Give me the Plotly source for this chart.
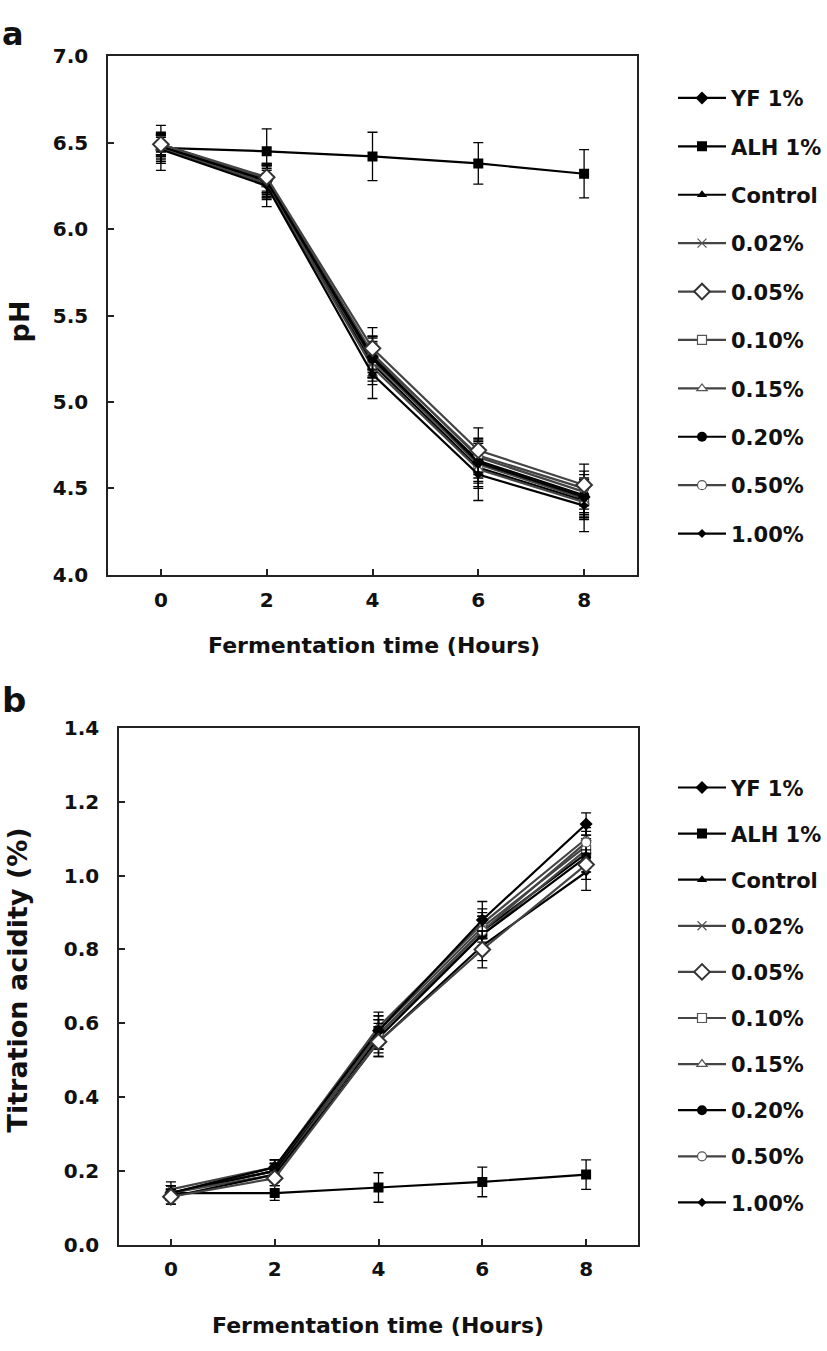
import plotly.graph_objects as go

# ---------------- data ----------------
hours = [0, 2, 4, 6, 8]
series_names = ["YF 1%", "ALH 1%", "Control", "0.02%", "0.05%", "0.10%",
                "0.15%", "0.20%", "0.50%", "1.00%"]

# panel a : pH
ph_yf = [6.48, 6.28, 5.26, 4.65, 4.45]
ph_alh = [6.47, 6.45, 6.42, 6.38, 6.32]
ph_control = [6.47, 6.27, 5.22, 4.62, 4.43]
ph_002 = [6.49, 6.29, 5.28, 4.68, 4.48]
ph_005 = [6.49, 6.30, 5.31, 4.72, 4.52]
ph_010 = [6.48, 6.27, 5.24, 4.64, 4.44]
ph_015 = [6.47, 6.26, 5.20, 4.61, 4.42]
ph_020 = [6.48, 6.28, 5.25, 4.66, 4.46]
ph_050 = [6.49, 6.29, 5.27, 4.69, 4.50]
ph_100 = [6.46, 6.25, 5.16, 4.58, 4.40]

ph_err_yf = [0.08, 0.10, 0.12, 0.12, 0.10]
ph_err_alh = [0.13, 0.13, 0.14, 0.12, 0.14]
ph_err_control = [0.08, 0.10, 0.10, 0.12, 0.10]
ph_err_002 = [0.06, 0.08, 0.10, 0.10, 0.10]
ph_err_005 = [0.06, 0.08, 0.12, 0.13, 0.12]
ph_err_010 = [0.06, 0.08, 0.10, 0.10, 0.10]
ph_err_015 = [0.06, 0.08, 0.10, 0.10, 0.10]
ph_err_020 = [0.06, 0.08, 0.10, 0.10, 0.10]
ph_err_050 = [0.06, 0.08, 0.10, 0.10, 0.10]
ph_err_100 = [0.08, 0.12, 0.14, 0.15, 0.15]

# panel b : titration acidity (%)
ta_yf = [0.14, 0.21, 0.58, 0.88, 1.14]
ta_alh = [0.14, 0.14, 0.155, 0.17, 0.19]
ta_control = [0.14, 0.20, 0.57, 0.85, 1.06]
ta_002 = [0.14, 0.21, 0.58, 0.86, 1.08]
ta_005 = [0.13, 0.18, 0.55, 0.80, 1.03]
ta_010 = [0.14, 0.20, 0.57, 0.84, 1.07]
ta_015 = [0.15, 0.21, 0.59, 0.87, 1.10]
ta_020 = [0.14, 0.20, 0.56, 0.84, 1.05]
ta_050 = [0.14, 0.19, 0.57, 0.85, 1.09]
ta_100 = [0.13, 0.19, 0.55, 0.81, 1.01]

ta_err_yf = [0.02, 0.02, 0.04, 0.05, 0.03]
ta_err_alh = [0.02, 0.02, 0.04, 0.04, 0.04]
ta_err_control = [0.02, 0.02, 0.04, 0.04, 0.04]
ta_err_002 = [0.02, 0.02, 0.04, 0.04, 0.04]
ta_err_005 = [0.02, 0.02, 0.04, 0.05, 0.04]
ta_err_010 = [0.02, 0.02, 0.04, 0.04, 0.04]
ta_err_015 = [0.02, 0.02, 0.04, 0.04, 0.04]
ta_err_020 = [0.02, 0.02, 0.04, 0.04, 0.04]
ta_err_050 = [0.02, 0.02, 0.04, 0.04, 0.04]
ta_err_100 = [0.02, 0.02, 0.04, 0.04, 0.05]

ph_values = [ph_yf, ph_alh, ph_control, ph_002, ph_005, ph_010, ph_015, ph_020, ph_050, ph_100]
ph_errors = [ph_err_yf, ph_err_alh, ph_err_control, ph_err_002, ph_err_005, ph_err_010,
             ph_err_015, ph_err_020, ph_err_050, ph_err_100]
ta_values = [ta_yf, ta_alh, ta_control, ta_002, ta_005, ta_010, ta_015, ta_020, ta_050, ta_100]
ta_errors = [ta_err_yf, ta_err_alh, ta_err_control, ta_err_002, ta_err_005, ta_err_010,
             ta_err_015, ta_err_020, ta_err_050, ta_err_100]

# ---------------- styles ----------------
GRAY = "#555555"
styles = {
    "YF 1%":  dict(symbol="diamond", size=10, color="black", lc="black", lw=0),
    "ALH 1%": dict(symbol="square", size=10, color="black", lc="black", lw=0),
    "Control": dict(symbol="triangle-up", size=9, color="black", lc="black", lw=0),
    "0.02%":  dict(symbol="x-thin", size=9, color=GRAY, lc=GRAY, lw=1.2),
    "0.05%":  dict(symbol="diamond", size=12, color="white", lc="#333333", lw=2),
    "0.10%":  dict(symbol="square", size=9, color="white", lc=GRAY, lw=1.2),
    "0.15%":  dict(symbol="triangle-up", size=9, color="white", lc=GRAY, lw=1.2),
    "0.20%":  dict(symbol="circle", size=10, color="black", lc="black", lw=0),
    "0.50%":  dict(symbol="circle", size=9, color="white", lc=GRAY, lw=1.2),
    "1.00%":  dict(symbol="diamond", size=7, color="black", lc="black", lw=0),
}
line_colors = {"0.02%": "#444444", "0.05%": "#444444", "0.10%": "#444444",
               "0.15%": "#444444", "0.50%": "#444444"}
draw_order = ["ALH 1%", "Control", "0.02%", "0.10%", "0.15%", "0.20%",
              "0.50%", "1.00%", "YF 1%", "0.05%"]

FONT = "DejaVu Sans"
TXT = "#111111"
fig = go.Figure()

panels = [
    dict(vals=ph_values, errs=ph_errors, xa="x", ya="y", leg="legend", tag="a"),
    dict(vals=ta_values, errs=ta_errors, xa="x2", ya="y2", leg="legend2", tag="b"),
]
for p in panels:
    for name in draw_order:
        i = series_names.index(name)
        st = styles[name]
        fig.add_trace(go.Scatter(
            x=hours, y=p["vals"][i], name=name, mode="lines+markers",
            xaxis=p["xa"], yaxis=p["ya"], legend=p["leg"],
            legendgroup=p["tag"] + name, legendrank=i + 1,
            line=dict(color=line_colors.get(name, "black"), width=2.2),
            marker=dict(symbol=st["symbol"], size=st["size"], color=st["color"],
                        line=dict(color=st["lc"], width=st["lw"])),
            error_y=dict(type="data", array=p["errs"][i], visible=True,
                         color="black", thickness=1.3, width=5),
        ))

W, H = 827, 1351
def px_x(v): return v / W
def px_y(v): return 1 - v / H

axis_common = dict(showgrid=False, zeroline=False, showline=True, mirror=True,
                   linecolor="#222222", linewidth=1.5, ticks="inside", ticklen=6,
                   tickcolor="#222222", tickwidth=1.5,
                   tickfont=dict(family=FONT, size=20, color=TXT, weight="bold"))

leg_font = dict(family=FONT, size=21, color=TXT, weight="bold")
fig.update_layout(
    width=W, height=H, margin=dict(l=0, r=0, t=0, b=0),
    paper_bgcolor="white", plot_bgcolor="white",
    font=dict(family=FONT, color=TXT),
    xaxis=dict(domain=[px_x(108), px_x(637)], range=[-1, 9], tickvals=[0, 2, 4, 6, 8],
               anchor="y", ticklabelstandoff=6, **axis_common),
    yaxis=dict(domain=[px_y(573), px_y(45)], range=[4, 7], dtick=0.5, tickformat=".1f",
               anchor="x", ticklabelstandoff=14, **axis_common),
    xaxis2=dict(domain=[px_x(119), px_x(638)], range=[-1, 9], tickvals=[0, 2, 4, 6, 8],
                anchor="y2", ticklabelstandoff=6, **axis_common),
    yaxis2=dict(domain=[px_y(1255), px_y(729)], range=[0, 1.4], dtick=0.2, tickformat=".1f",
                anchor="x2", ticklabelstandoff=14, **axis_common),
    legend=dict(x=px_x(673), y=px_y(67), xanchor="left", yanchor="top",
                font=leg_font, tracegroupgap=18.1, bgcolor="rgba(0,0,0,0)", itemwidth=48),
    legend2=dict(x=px_x(673), y=px_y(769), xanchor="left", yanchor="top",
                 font=leg_font, tracegroupgap=15.8, bgcolor="rgba(0,0,0,0)", itemwidth=48),
    showlegend=True,
)

ann_font = dict(family=FONT, size=22, color=TXT, weight="bold")
yt_font = dict(family=FONT, size=27, color=TXT, weight="bold")
annotations = [
    dict(text="a", x=px_x(0), y=px_y(1), xanchor="left", yanchor="top",
         font=dict(family=FONT, size=32, color=TXT, weight="bold")),
    dict(text="b", x=px_x(0), y=px_y(700), xanchor="left", yanchor="middle",
         font=dict(family=FONT, size=34, color=TXT, weight="bold")),
    dict(text="Fermentation time (Hours)", x=px_x(374), y=px_y(645),
         xanchor="center", yanchor="middle", font=ann_font),
    dict(text="Fermentation time (Hours)", x=px_x(378), y=px_y(1337),
         xanchor="center", yanchor="middle", font=ann_font),
    dict(text="pH", x=px_x(19), y=px_y(315), textangle=-90,
         xanchor="center", yanchor="middle", font=yt_font),
    dict(text="Titration acidity (%)", x=px_x(17), y=px_y(986), textangle=-90,
         xanchor="center", yanchor="middle", font=yt_font),
]
for a in annotations:
    a.update(xref="paper", yref="paper", showarrow=False)
fig.update_layout(annotations=annotations)

fig.write_html("out.html")
